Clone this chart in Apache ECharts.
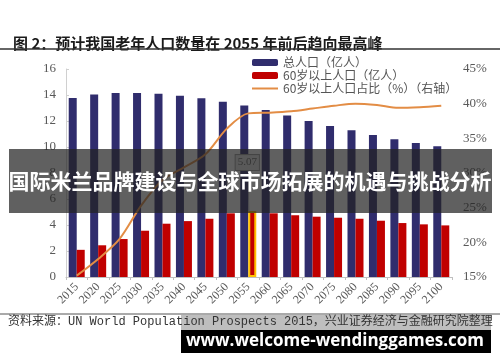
<!DOCTYPE html>
<html><head><meta charset="utf-8">
<script src="https://cdn.jsdelivr.net/npm/echarts@6/dist/echarts.min.js"></script>
<style>html,body{margin:0;padding:0;background:#fff}#c{width:500px;height:362px}</style>
</head><body><div id="c"></div>
<script>
const categories = ['2015','2020','2025','2030','2035','2040','2045','2050','2055','2060','2065','2070','2075','2080','2085','2090','2095','2100'];
const totalPop = [13.76,14.03,14.15,14.16,14.10,13.95,13.75,13.48,13.20,12.85,12.42,12.00,11.62,11.28,10.92,10.60,10.30,10.05];
const oldPop = [2.09,2.44,2.92,3.56,4.10,4.30,4.48,4.90,5.07,4.90,4.75,4.64,4.56,4.48,4.33,4.15,4.05,3.97];
const oldShare = [15.2,17.6,20.5,25.3,29.0,30.8,32.7,36.4,38.6,38.7,38.9,39.3,39.7,40.0,39.8,39.4,39.5,39.7];
const leftTicks = [0,16,2];
const rightTicks = [15,45,5];
const highlightIndex = categories.indexOf('2055');

const chart = echarts.init(document.getElementById('c'), null, {renderer:'canvas'});
const serif = 'Liberation Serif, Times New Roman, serif';
const cjk = 'Noto Sans CJK SC';

const oldData = oldPop.map((v,i)=> i===highlightIndex ? {
  value: v,
  itemStyle:{borderColor:'#ffc000',borderWidth:2},
  label:{show:true,position:'top',formatter:'{c}',color:'#666',fontFamily:serif,fontSize:11,
    backgroundColor:'#e6e6e6',borderColor:'#999',borderWidth:1,padding:[2,2]},
  labelLine:{show:true,lineStyle:{color:'#ddd',width:1}}
} : v);

chart.setOption({
  animation:false,
  backgroundColor:'#fff',
  title:{text:'图 2：预计我国老年人口数量在 2055 年前后趋向最高峰',left:8,top:31,
    textStyle:{fontFamily:cjk,fontSize:15,fontWeight:'bold',color:'#1a1a1a'}},
  legend:{orient:'vertical',left:247,top:51,itemWidth:26,itemHeight:7,itemGap:0,
    textStyle:{fontFamily:cjk,fontSize:12,color:'#555',lineHeight:13},
    data:['总人口（亿人）','60岁以上人口（亿人）',
      {name:'60岁以上人口占比（%）（右轴）',icon:'path://M0,0H26V2H0Z'}]},
  grid:{left:66,right:48,top:69,bottom:85},
  xAxis:{type:'category',data:categories,
    axisLine:{lineStyle:{color:'#bfbfbf'}},
    axisTick:{show:true,length:3,lineStyle:{color:'#bfbfbf'}},
    axisLabel:{rotate:45,interval:0,margin:8,fontFamily:serif,fontSize:12,color:'#595959'}},
  yAxis:[
    {type:'value',min:leftTicks[0],max:leftTicks[1],interval:leftTicks[2],
      axisLine:{show:true,lineStyle:{color:'#d0d0d0'}},
      axisTick:{show:true,inside:true,length:3,lineStyle:{color:'#d0d0d0'}},
      splitLine:{show:false},
      axisLabel:{margin:10,fontFamily:serif,fontSize:13,color:'#595959'}},
    {type:'value',min:rightTicks[0],max:rightTicks[1],interval:rightTicks[2],
      axisLine:{show:false},axisTick:{show:false},splitLine:{show:false},
      axisLabel:{margin:11,formatter:'{value}%',fontFamily:serif,fontSize:13,color:'#595959'}}
  ],
  series:[
    {name:'总人口（亿人）',type:'bar',data:totalPop,barWidth:8,barGap:'0%',
      itemStyle:{color:'#302d6d'}},
    {name:'60岁以上人口（亿人）',type:'bar',data:oldData,barWidth:8,
      itemStyle:{color:'#c00000'},
      labelLayout:function(p){ return p.dataIndex===highlightIndex ? {dx:-5,dy:-36} : {}; }},
    {name:'60岁以上人口占比（%）（右轴）',type:'line',yAxisIndex:1,data:oldShare,
      symbol:'none',smooth:0.3,z:5,lineStyle:{color:'#e38d45',width:2},itemStyle:{color:'#e38d45'}}
  ],
  graphic:[
    {type:'line',shape:{x1:0,y1:49,x2:500,y2:49},style:{stroke:'#333',lineWidth:1.5},z:10},
    {type:'line',shape:{x1:0,y1:314,x2:500,y2:314},style:{stroke:'#555',lineWidth:1},z:10},
    {type:'rect',shape:{x:181,y:315,width:310,height:15},style:{fill:'rgba(110,110,110,0.45)'},z:9},
    {type:'text',left:8,top:316,style:{text:'资料来源：UN World Population Prospects 2015，兴业证券经济与金融研究院整理',
      font:'12px "Liberation Mono", "Noto Sans CJK SC"',fill:'#333'},z:10},
    {type:'rect',shape:{x:181,y:330,width:310,height:23},style:{fill:'#000'},z:20},
    {type:'text',x:335,y:341,style:{text:'www.welcome-wendinggames.com',align:'center',verticalAlign:'middle',
      font:'bold 17px "Open Sans"',fill:'#fff'},z:21},
    {type:'rect',shape:{x:9,y:149,width:483,height:64},style:{fill:'rgba(35,35,35,0.72)'},z:30},
    {type:'text',x:250,y:181,style:{text:'国际米兰品牌建设与全球市场拓展的机遇与挑战分析',align:'center',verticalAlign:'middle',
      font:'bold 21px "Noto Sans CJK SC"',fill:'#fff'},z:31}
  ]
});
</script></body></html>
